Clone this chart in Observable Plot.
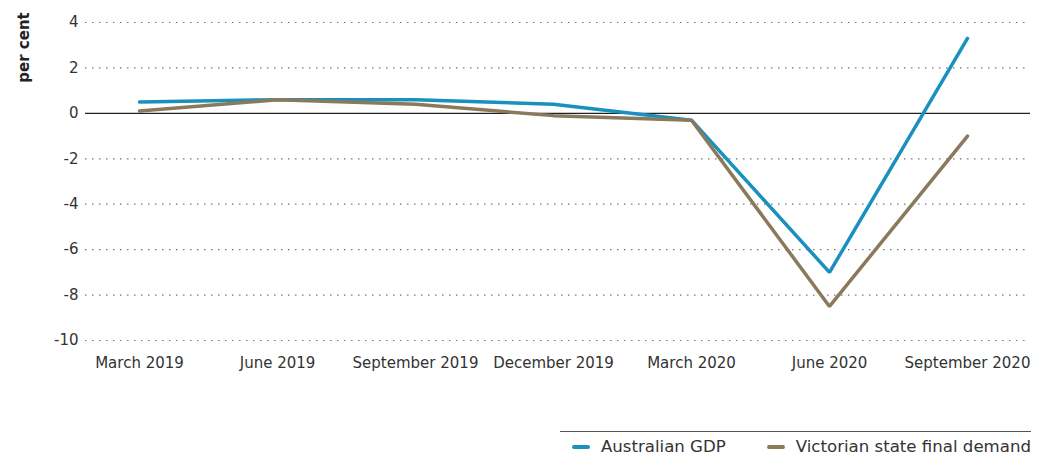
<!DOCTYPE html>
<html>
<head>
<meta charset="utf-8">
<script src="https://cdn.jsdelivr.net/npm/d3@7"></script>
<script src="https://cdn.jsdelivr.net/npm/@observablehq/plot@0.6"></script>
<style>
  body { margin: 0; background: #fff; font-family: "DejaVu Sans", sans-serif; }
  #chart { width: 1041px; }
  #legend {
    position: absolute; left: 560px; top: 431px; width: 471px;
    border-top: 1px solid #555;
    display: flex; justify-content: flex-end; gap: 41px;
    padding-top: 5px; font-size: 16.6px; color: #333;
  }
  .item { display: flex; align-items: center; gap: 11px; }
  .sw { width: 18px; height: 4px; border-radius: 2px; }
</style>
</head>
<body>
<div id="chart"></div>
<div id="legend"></div>
<script>
const quarters = ["March 2019", "June 2019", "September 2019", "December 2019", "March 2020", "June 2020", "September 2020"];
const gdp = [0.5, 0.6, 0.6, 0.4, -0.3, -7.0, 3.3];
const vic = [0.1, 0.6, 0.4, -0.1, -0.3, -8.5, -1.0];
const seriesNames = ["Australian GDP", "Victorian state final demand"];
const seriesColors = ["#1a90bf", "#8a7a5c"];
const yTicks = [4, 2, 0, -2, -4, -6, -8, -10];

const data = [];
quarters.forEach((q, i) => {
  data.push({q, v: gdp[i], s: seriesNames[0]});
  data.push({q, v: vic[i], s: seriesNames[1]});
});

const plot = Plot.plot({
  width: 1041,
  height: 400,
  marginLeft: 85,
  marginRight: 11,
  marginTop: 22,
  marginBottom: 60,
  style: {fontFamily: "DejaVu Sans, sans-serif", fontSize: "15px", color: "#333"},
  x: {type: "point", domain: quarters, padding: 0, insetLeft: 52, insetRight: 61, label: null},
  y: {domain: [-10, 4], ticks: yTicks, label: null},
  color: {domain: seriesNames, range: seriesColors},
  marks: [
    Plot.ruleY(yTicks.filter(d => d !== 0), {stroke: "#777", strokeDasharray: "1.5,5.5", strokeWidth: 1.2}),
    Plot.ruleY([0], {stroke: "#222", strokeWidth: 1.2}),
    Plot.axisY({ticks: yTicks, tickSize: 0, tickPadding: 7, tickFormat: d => String(d), fontSize: 15}),
    Plot.axisX({tickSize: 0, tickPadding: 17, fontSize: 15}),
    Plot.line(data, {x: "q", y: "v", z: "s", stroke: "s", strokeWidth: 3.5, strokeLinejoin: "miter"}),
    Plot.text(["per cent"], {frameAnchor: "top-left", dx: -67, dy: 25, rotate: -90, fontSize: 15, fontWeight: 600, fill: "#222", textAnchor: "middle"})
  ]
});
document.getElementById("chart").appendChild(plot);

const legend = document.getElementById("legend");
seriesNames.forEach((n, i) => {
  const it = document.createElement("div");
  it.className = "item";
  const sw = document.createElement("span");
  sw.className = "sw";
  sw.style.background = seriesColors[i];
  const t = document.createElement("span");
  t.textContent = n;
  it.appendChild(sw); it.appendChild(t);
  legend.appendChild(it);
});
</script>
</body>
</html>
